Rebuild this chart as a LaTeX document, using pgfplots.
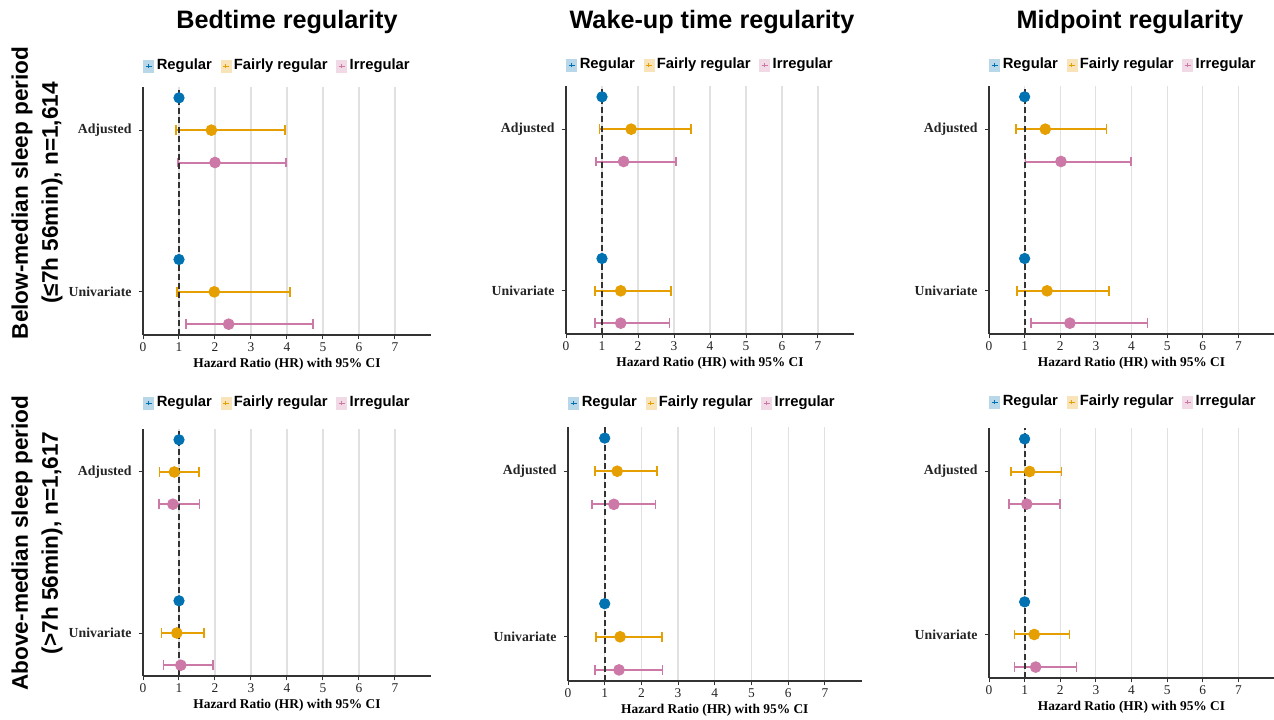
\documentclass[border=0pt]{standalone}
\usepackage{fontspec}
\setmainfont{Liberation Serif}
\newfontfamily\sansf{Liberation Sans}
\usepackage{pgfplots}
\usepackage{pgfplotstable}
\pgfplotsset{compat=1.18}

\definecolor{cReg}{RGB}{0,114,178}
\definecolor{cFair}{RGB}{230,159,0}
\definecolor{cIrr}{RGB}{204,121,167}
\definecolor{axisgray}{RGB}{51,51,51}
\definecolor{gridgray}{RGB}{225,225,225}

% columns: y (2=Adjusted, 1=Univariate), rhr = Regular (reference),
% fhr/flo/fhi = Fairly regular HR and 95% CI, ihr/ilo/ihi = Irregular HR and 95% CI
\pgfplotstableread{
y rhr fhr flo fhi ihr ilo ihi
2 1 1.90 0.92 3.95 2.00 0.98 3.98
1 1 1.98 0.95 4.08 2.38 1.20 4.73
}\BTbelow
\pgfplotstableread{
y rhr fhr flo fhi ihr ilo ihi
2 1 0.87 0.46 1.56 0.83 0.44 1.57
1 1 0.94 0.51 1.70 1.05 0.57 1.94
}\BTabove
\pgfplotstableread{
y rhr fhr flo fhi ihr ilo ihi
2 1 1.81 0.93 3.48 1.60 0.84 3.06
1 1 1.52 0.80 2.91 1.52 0.80 2.87
}\WTbelow
\pgfplotstableread{
y rhr fhr flo fhi ihr ilo ihi
2 1 1.34 0.73 2.43 1.25 0.65 2.38
1 1 1.42 0.76 2.56 1.39 0.73 2.58
}\WTabove
\pgfplotstableread{
y rhr fhr flo fhi ihr ilo ihi
2 1 1.58 0.76 3.30 2.02 1.02 3.99
1 1 1.63 0.78 3.37 2.27 1.18 4.45
}\MPbelow
\pgfplotstableread{
y rhr fhr flo fhi ihr ilo ihi
2 1 1.14 0.61 2.04 1.06 0.56 2.00
1 1 1.27 0.71 2.26 1.31 0.71 2.46
}\MPabove

\newcommand{\ticksize}{\fontsize{6.7}{8}\selectfont}
\newcommand{\legfont}{\sansf\bfseries\fontsize{7.4}{9}\selectfont}

\pgfplotsset{
  regkey/.style={legend image code/.code={
      \fill[cReg!28] (0pt,-3pt) rectangle (5pt,3pt);
      \draw[cReg,line width=0.5pt] (1pt,0pt)--(4pt,0pt) (2.5pt,-1pt)--(2.5pt,1pt);}},
  fairkey/.style={legend image code/.code={
      \fill[cFair!28] (0pt,-3pt) rectangle (5pt,3pt);
      \draw[cFair,line width=0.5pt] (1pt,0pt)--(4pt,0pt) (2.5pt,-1pt)--(2.5pt,1pt);}},
  irrkey/.style={legend image code/.code={
      \fill[cIrr!28] (0pt,-3pt) rectangle (5pt,3pt);
      \draw[cIrr,line width=0.5pt] (1pt,0pt)--(4pt,0pt) (2.5pt,-1pt)--(2.5pt,1pt);}},
  panel/.style={
    scale only axis, width=144pt, height=124pt,
    xmin=0, xmax=8, ymin=0.733, ymax=2.267,
    axis x line*=bottom, axis y line*=left,
    axis line style={draw=axisgray, line width=0.6pt, -},
    xtick={0,1,2,3,4,5,6,7}, ytick={1,2},
    yticklabels={\textbf{Univariate},\textbf{Adjusted}},
    tick align=outside, major tick length=2.2pt,
    tick style={draw=axisgray, line width=0.5pt},
    xmajorgrids, grid style={draw=gridgray, line width=0.6pt},
    tick label style={font=\ticksize, text=axisgray!70!black},
    xticklabel style={yshift=1.8pt},
    yticklabel style={font=\fontsize{6.9}{8}\selectfont},
    /pgf/number format/assume math mode=true,
    xlabel={\textbf{Hazard Ratio (HR) with 95\% CI}},
    xlabel style={font=\ticksize, at={(axis description cs:0.5,0)}, anchor=center, yshift=-14.5pt},
    legend style={at={(0,1)}, anchor=west, draw=none, fill=none, inner sep=0pt,
      font=\legfont, legend columns=3,
      /tikz/every even column/.append style={column sep=3pt},
      nodes={inner sep=1.3pt}},
  },
  errs/.style={only marks, mark=*, mark size=2.7pt, color=#1,
    mark options={fill=#1, draw=#1},
    error bars/.cd, x dir=both, x explicit, error mark=|,
    error bar style={line width=1pt, color=#1},
    error mark options={line width=0.8pt, mark size=2.4pt, color=#1}},
}

\newcommand{\panelplots}[1]{%
  \addlegendimage{regkey}\addlegendentry{Regular}
  \addlegendimage{fairkey}\addlegendentry{Fairly regular}
  \addlegendimage{irrkey}\addlegendentry{Irregular}
  \addplot[forget plot, only marks, mark=*, mark size=2.6pt, color=cReg]
    table[x=rhr, y expr=\thisrow{y}+0.2] {#1};
  \addplot[forget plot, errs=cFair]
    table[x=fhr, y=y, x error plus expr=\thisrow{fhi}-\thisrow{fhr},
          x error minus expr=\thisrow{fhr}-\thisrow{flo}] {#1};
  \addplot[forget plot, errs=cIrr]
    table[x=ihr, y expr=\thisrow{y}-0.2, x error plus expr=\thisrow{ihi}-\thisrow{ihr},
          x error minus expr=\thisrow{ihr}-\thisrow{ilo}] {#1};
  \addplot[forget plot, draw=axisgray, line width=0.9pt, dash pattern=on 3pt off 1.6pt]
    coordinates {(1,0.733) (1,2.267)};
}

\begin{document}
\begin{tikzpicture}
\path[use as bounding box] (0,0) rectangle (637pt,359.5pt);

% column titles
\node[font=\sansf\bfseries\fontsize{12.6}{14}\selectfont] at (143.5pt,348.5pt) {Bedtime regularity};
\node[font=\sansf\bfseries\fontsize{12.6}{14}\selectfont] at (356pt,348.5pt) {Wake-up time regularity};
\node[font=\sansf\bfseries\fontsize{12.6}{14}\selectfont] at (565pt,348.5pt) {Midpoint regularity};

% row labels
\node[rotate=90, align=center, font=\sansf\bfseries\fontsize{11.3}{15}\selectfont] at (18.5pt,263pt)
  {Below-median sleep period\\(≤7h 56min), n=1,614};
\node[rotate=90, align=center, font=\sansf\bfseries\fontsize{11.3}{15}\selectfont] at (18.5pt,88pt)
  {Above-median sleep period\\(>7h 56min), n=1,617};

% top row
\begin{axis}[panel, at={(71.5pt,192pt)}, anchor=south west, legend style={yshift=10.5pt}]
\panelplots{\BTbelow}
\end{axis}
\begin{axis}[panel, at={(283pt,192.5pt)}, anchor=south west, legend style={yshift=10.5pt}]
\panelplots{\WTbelow}
\end{axis}
\begin{axis}[panel, width=142.5pt, at={(494.5pt,192.5pt)}, anchor=south west, legend style={yshift=10.5pt}]
\panelplots{\MPbelow}
\end{axis}

% bottom row
\begin{axis}[panel, at={(71.5pt,21.5pt)}, anchor=south west, height=123.5pt, legend style={yshift=13pt}]
\panelplots{\BTabove}
\end{axis}
\begin{axis}[panel, at={(284pt,19pt)}, anchor=south west, width=146.8pt, height=127pt, legend style={yshift=12pt}]
\panelplots{\WTabove}
\end{axis}
\begin{axis}[panel, width=142.5pt, at={(494.5pt,20.5pt)}, anchor=south west, height=125pt, legend style={yshift=13pt}]
\panelplots{\MPabove}
\end{axis}
\end{tikzpicture}
\end{document}
